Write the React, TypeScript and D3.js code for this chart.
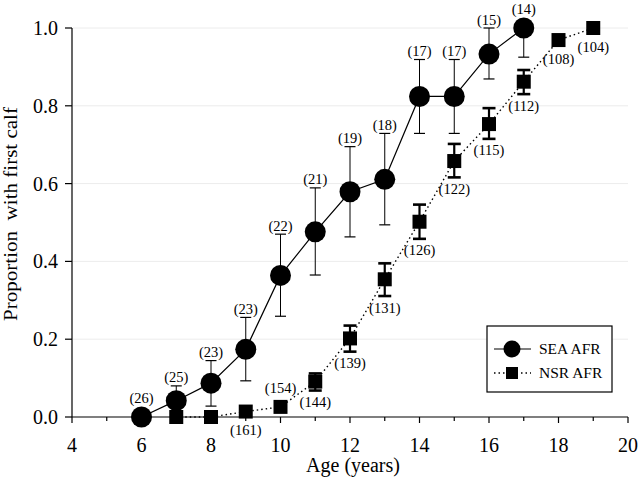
import React from "react";
import * as d3 from "d3";

const seaAges = [6, 7, 8, 9, 10, 11, 12, 13, 14, 15, 16, 17];
const seaValues = [0, 0.042, 0.087, 0.174, 0.364, 0.476, 0.579, 0.611, 0.824, 0.824, 0.933, 1.0];
const seaLower = [null, 0.005, 0.028, 0.093, 0.259, 0.365, 0.463, 0.494, 0.729, 0.729, 0.869, 0.925];
const seaUpper = [null, 0.08, 0.145, 0.256, 0.47, 0.589, 0.695, 0.729, 0.919, 0.919, 1.0, null];
const seaN = [26, 25, 23, 23, 22, 21, 19, 18, 17, 17, 15, 14];

const nsrAges = [7, 8, 9, 10, 11, 12, 13, 14, 15, 16, 17, 18, 19];
const nsrValues = [0, 0, 0.014, 0.026, 0.091, 0.202, 0.354, 0.502, 0.658, 0.753, 0.862, 0.969, 1.0];
const nsrLower = [null, null, null, null, 0.068, 0.168, 0.311, 0.458, 0.616, 0.715, 0.83, null, null];
const nsrUpper = [null, null, null, null, 0.112, 0.235, 0.395, 0.546, 0.702, 0.794, 0.892, null, null];
const nsrN = [null, null, 161, 154, 144, 139, 131, 126, 122, 115, 112, 108, 104];
const nsrLabelSide = ["below", "below", "below", "above", "below", "below", "below", "below", "below", "below", "below", "below", "below"];

const xTicks = [4, 5, 6, 7, 8, 9, 10, 11, 12, 13, 14, 15, 16, 17, 18, 19, 20];
const yTicks = [0, 0.2, 0.4, 0.6, 0.8, 1.0];

const xAxisTitle = "Age (years)";
const yAxisTitle = "Proportion\u00a0 with first calf";
const legendLabels = ["SEA AFR", "NSR AFR"];

const FONT = "Liberation Serif, Times New Roman, Times, serif";

export default function App() {
  const W = 640, H = 480;
  const x = d3.scaleLinear().domain([4, 20]).range([72, 628]);
  const y = d3.scaleLinear().domain([0, 1]).range([417, 28]);

  const R = 10.5; // circle radius
  const S = 14; // square side

  const seaPts: [number, number][] = seaAges.map((a, i) => [x(a), y(seaValues[i])]);
  const nsrPts: [number, number][] = nsrAges.map((a, i) => [x(a), y(nsrValues[i])]);
  const line = d3.line();

  return (
    <svg width={W} height={H} style={{ position: "absolute", left: 0, top: 0, background: "#fff", fontFamily: FONT }}>
      <rect width={W} height={H} fill="#fff" />
      {/* faint gridlines */}
      {yTicks.filter((t) => t > 0).map((t) => (
        <line key={"g" + t} x1={73} x2={628} y1={y(t)} y2={y(t)} stroke="#ececec" strokeWidth={1} />
      ))}

      {/* axes */}
      <line x1={x(4)} x2={x(20)} y1={y(0)} y2={y(0)} stroke="#000" strokeWidth={1.2} />
      <line x1={x(4)} x2={x(4)} y1={y(0)} y2={y(1)} stroke="#000" strokeWidth={1.2} />
      {xTicks.map((t) => (
        <line key={"xt" + t} x1={x(t)} x2={x(t)} y1={y(0)} y2={y(0) + (t % 2 === 0 ? 6 : 4)} stroke="#000" strokeWidth={1.2} />
      ))}
      {xTicks.filter((t) => t % 2 === 0).map((t) => (
        <text key={"xl" + t} x={x(t)} y={445} dy="0.35em" textAnchor="middle" fontSize={20}>{t}</text>
      ))}
      {yTicks.map((t) => (
        <line key={"yt" + t} x1={x(4) - 7} x2={x(4)} y1={y(t)} y2={y(t)} stroke="#000" strokeWidth={1.2} />
      ))}
      {yTicks.map((t) => (
        <text key={"yl" + t} x={58} y={y(t)} dy="0.35em" textAnchor="end" fontSize={20}>{d3.format(".1f")(t)}</text>
      ))}
      <text x={(x(4) + x(20)) / 2 + 3} y={472} textAnchor="middle" fontSize={20}>{xAxisTitle}</text>
      <text transform={`translate(17,214) rotate(-90) scale(1.17,1)`} textAnchor="middle" fontSize={18} style={{ whiteSpace: "pre" }}>{yAxisTitle}</text>

      {/* lines */}
      <path d={line(seaPts) || ""} fill="none" stroke="#000" strokeWidth={1.2} />
      <path d={line(nsrPts) || ""} fill="none" stroke="#000" strokeWidth={1.4} strokeDasharray="1.5,3" />

      {/* SEA error bars */}
      {seaAges.map((a, i) => {
        const cx = x(a);
        const els = [];
        if (seaUpper[i] != null) {
          els.push(<line key="u" x1={cx} x2={cx} y1={y(seaValues[i])} y2={y(seaUpper[i] as number)} stroke="#000" strokeWidth={1} />);
          els.push(<line key="uc" x1={cx - 5.5} x2={cx + 5.5} y1={y(seaUpper[i] as number)} y2={y(seaUpper[i] as number)} stroke="#000" strokeWidth={1.2} />);
        }
        if (seaLower[i] != null) {
          els.push(<line key="l" x1={cx} x2={cx} y1={y(seaValues[i])} y2={y(seaLower[i] as number)} stroke="#000" strokeWidth={1} />);
          els.push(<line key="lc" x1={cx - 5.5} x2={cx + 5.5} y1={y(seaLower[i] as number)} y2={y(seaLower[i] as number)} stroke="#000" strokeWidth={1.2} />);
        }
        return <g key={"se" + a}>{els}</g>;
      })}

      {/* NSR error bars */}
      {nsrAges.map((a, i) => {
        const cx = x(a);
        if (nsrUpper[i] == null || nsrLower[i] == null) return null;
        const yu = y(nsrUpper[i] as number);
        const yl = y(nsrLower[i] as number);
        return (
          <g key={"ne" + a} stroke="#000">
            <line x1={cx} x2={cx} y1={yu} y2={yl} strokeWidth={2.2} />
            <line x1={cx - 6.5} x2={cx + 6.5} y1={yu} y2={yu} strokeWidth={2.6} />
            <line x1={cx - 6.5} x2={cx + 6.5} y1={yl} y2={yl} strokeWidth={2.6} />
          </g>
        );
      })}

      {/* markers */}
      {seaPts.map(([cx, cy], i) => (
        <circle key={"c" + i} cx={cx} cy={cy} r={R} fill="#000" />
      ))}
      {nsrPts.map(([cx, cy], i) => (
        <rect key={"s" + i} x={cx - S / 2} y={cy - S / 2} width={S} height={S} fill="#000" />
      ))}

      {/* sample-size labels */}
      {seaAges.map((a, i) => {
        const top = Math.min(seaUpper[i] != null ? y(seaUpper[i] as number) : Infinity, y(seaValues[i]) - R);
        return (
          <text key={"sl" + a} x={x(a)} y={top - 8.5} dy="0.35em" textAnchor="middle" fontSize={14.5}>({seaN[i]})</text>
        );
      })}
      {nsrAges.map((a, i) => {
        if (nsrN[i] == null) return null;
        let ly: number;
        if (nsrLabelSide[i] === "above") {
          ly = y(nsrValues[i]) - S / 2 - 11.5;
        } else {
          const bottom = Math.max(nsrLower[i] != null ? y(nsrLower[i] as number) : -Infinity, y(nsrValues[i]) + S / 2);
          ly = bottom + 11.5;
        }
        return (
          <text key={"nl" + a} x={x(a)} y={ly} dy="0.35em" textAnchor="middle" fontSize={14.5}>({nsrN[i]})</text>
        );
      })}

      {/* legend */}
      <rect x={487} y={326} width={125} height={66} fill="#fff" stroke="#000" strokeWidth={1.2} />
      <line x1={494} x2={531} y1={349} y2={349} stroke="#000" strokeWidth={1.2} />
      <circle cx={512} cy={349} r={8.5} fill="#000" />
      <line x1={494} x2={531} y1={373} y2={373} stroke="#000" strokeWidth={1.4} strokeDasharray="1.5,3" />
      <rect x={512 - 6} y={373 - 6} width={12} height={12} fill="#000" />
      <text x={539} y={349} dy="0.35em" fontSize={15.5}>{legendLabels[0]}</text>
      <text x={539} y={373} dy="0.35em" fontSize={15.5}>{legendLabels[1]}</text>
    </svg>
  );
}
